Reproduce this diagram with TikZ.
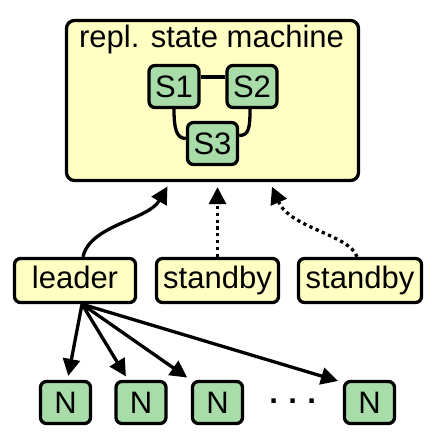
\documentclass[tikz,border=0pt]{standalone}
\usepackage{fontspec}
\setmainfont{Liberation Sans}
\usetikzlibrary{arrows.meta,calc}
\definecolor{boxyellow}{HTML}{FFFFC4}
\definecolor{boxgreen}{HTML}{A8DCA8}
\begin{document}
\begin{tikzpicture}[x=1pt,y=-1pt,
  every node/.style={font=\fontsize{31}{37}\selectfont, inner sep=0pt},
  ybox/.style={draw, line width=3.3pt, fill=boxyellow, rounded corners=6pt,
    minimum height=44pt, text height=22pt, text depth=6pt},
  gbox/.style={draw, line width=3.3pt, fill=boxgreen, rounded corners=6pt,
    minimum width=50pt, minimum height=42pt, text height=22pt, text depth=0pt},
  link/.style={line width=3.3pt},
  arr/.style={line width=3.3pt, -{Triangle[length=17pt,width=17pt]}},
  dotarr/.style={arr, dash pattern=on 3.3pt off 3.5pt}]
\useasboundingbox (0,0) rectangle (442,443);
% state machine box
\node[draw, line width=3.3pt, fill=boxyellow, rounded corners=8pt,
  minimum width=292pt, minimum height=160pt] (sm) at (212.5,100.5) {};
\node[anchor=base] (title) at (211.5,48) {repl. state machine};
\node[gbox] (S1) at (174,86.5) {S1};
\node[gbox] (S2) at (252,86.5) {S2};
\node[gbox] (S3) at (212.5,143.5) {S3};
\draw[link] ($(S1.east)+(0,-9.5)$) -- ($(S2.west)+(0,-9.5)$);
\draw[link] (S1.south) .. controls +(0,18) and +(-10,0) .. ($(S3.west)+(0,-5)$);
\draw[link] ($(S2.south)+(-2,0)$) .. controls +(0,18) and +(10,0) .. ($(S3.east)+(0,-8)$);
% replicas
\node[ybox, minimum width=121pt] (leader) at (75,280.5) {leader};
\node[ybox, minimum width=122pt] (sb1) at (217.5,280.5) {standby};
\node[ybox, minimum width=123pt] (sb2) at (360,280.5) {standby};
\draw[arr, shorten >=5pt] ($(leader.north)+(8,0)$) .. controls +(7,-32) and +(-22,38) .. ($(sm.south)+(-42.5,0)$);
\draw[dotarr, shorten >=5pt] (sb1.north) -- (sb1.north |- sm.south);
\draw[dotarr, shorten >=5pt] ($(sb2.north)+(-3,0)$) .. controls +(-7,-22) and +(20,46) .. ($(sm.south)+(57.5,0)$);
% nodes
\node[gbox] (N1) at (65.5,402.5) {N};
\node[gbox] (N2) at (141,402.5) {N};
\node[gbox] (N3) at (217.5,402.5) {N};
\node[gbox] (N4) at (369.5,402.5) {N};
\node[anchor=base, font=\fontsize{31}{37}\selectfont\bfseries] (dots) at (293.5,411) {· · ·};
\coordinate (lf) at ($(leader.south)+(7,0)$);
\draw[arr, shorten >=4pt] (lf) -- ($(N1.north)+(2,0)$);
\draw[arr, shorten >=4pt] (lf) -- ($(N2.north)+(-13,0)$);
\draw[arr, shorten >=4pt] (lf) -- ($(N3.north)+(-27,0)$);
\draw[arr, shorten >=3pt] (lf) -- ($(N4.north west)+(-2,2)$);
\end{tikzpicture}
\end{document}
